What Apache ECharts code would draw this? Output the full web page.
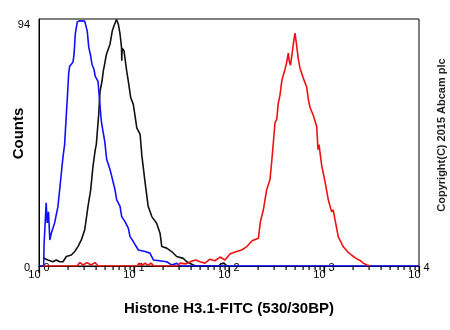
<!DOCTYPE html>
<html>
<head>
<meta charset="utf-8">
<script src="https://cdn.jsdelivr.net/npm/echarts@6/dist/echarts.min.js"></script>
<style>html,body{margin:0;padding:0;background:#fff}#c{width:450px;height:330px}</style>
</head>
<body>
<div id="c"></div>
<script>
// Fluorescence channel values (log scale) and event counts
const blueX = [1.00,1.12,1.13,1.19,1.22,1.26,1.30,1.35,1.46,1.58,1.65,1.72,1.79,1.86,1.94,1.99,2.05,2.10,2.19,2.28,2.34,2.41,2.53,2.68,3.03,3.22,3.34,3.50,3.61,3.79,3.91,4.18,4.35,4.53,4.72,4.92,5.16,5.59,5.83,6.31,6.58,7.13,7.42,8.04,8.71,9.08,9.83,11.1,13.1,14.7,16.0,22.1,24.9,28.1,30.5,10000];
const blueY = [0,0,8,24.1,16.4,20.6,9.9,12.6,16.4,22.5,29.0,35.5,41.6,46.2,57.7,64.2,73.0,76.0,76.8,77.6,80.6,88.3,92.9,93.3,93.2,89.4,83.3,79.9,76.8,74.9,72.2,70.3,62.7,55.0,51.2,47.4,40.5,36.7,34.1,29.0,25.2,22.7,18.8,16.9,14.4,11.2,9.3,6.1,5.5,4.9,2.3,1.6,0.4,1.0,0,0];

const blackX = [1.10,1.15,1.24,1.40,1.52,1.65,1.79,1.94,2.19,2.38,2.57,2.79,3.03,3.28,3.50,3.70,3.91,4.01,4.25,4.39,4.61,4.75,4.83,5.13,5.59,5.91,6.16,6.31,6.54,6.83,7.13,7.39,7.44,7.50,7.85,8.38,8.71,9.23,9.83,10.2,10.7,11.6,12.1,13.1,14.1,15.4,17.3,18.8,19.6,22.1,24.9,28.1,33.0,35.9,42.1,45.0,78,82,88.6,95,100];
const blackY = [3.1,2.9,2.3,1.6,2.3,1.6,1.6,3.6,4.2,5.5,7.4,9.9,13.8,22.7,29.0,37.9,44.3,46.2,57.7,66.5,70.4,74.2,75.5,80.6,84.4,89.5,91.4,92.1,93.8,92.1,88.3,83.2,78.1,82.9,81.9,74.2,70.4,64.1,61.5,57.7,52.6,50.1,42,31.6,22.7,18.8,16.3,12.5,7.4,6.8,5.5,3.6,2.9,1.6,0.4,0,0,0.8,1.1,0,0];

const redX = [1.10,2.51,2.70,2.90,3.20,3.52,3.89,4.18,10.8,11.3,12.1,13.1,14.0,15.1,16.2,28.4,30.5,35.3,40.8,45.0,49.5,55.9,63.1,71.2,80.4,90.8,102,120,136,154,175,204,214,230,249,270,281,293,305,318,330,344,359,370,389,405,421,431,444,461,475,495,513,537,559,605,658,684,712,772,838,865,886,946,1025,1110,1202,1250,1306,1415,1597,1789,1971,2172,2393,2593,2836,3049];
const redY = [0,0,1.3,0.4,1.3,0.4,1.3,0,0,1.1,0.2,1.1,0.2,1.1,0,0,1.1,0.8,1.9,2.3,1.6,1.1,2.6,2.0,3.4,2.3,4.6,5.5,6.1,7.4,9.6,10.6,16.8,21.4,29.0,32.9,39.4,47.0,54.6,55.8,61.9,65.0,70.3,72.2,74.9,77.6,81.0,77.9,76.4,80.6,84.4,88.6,84.4,78.7,75.3,71.5,68.0,63.4,60.4,57.3,53.1,44.3,46.2,38.2,32.1,25.2,20.6,21.4,17.6,11.1,7.3,5.3,4.0,2.9,2.1,1.1,0.4,0];

const xMajor = [1,10,100,1000,10000];
const xMinor = [2,3,4,5,6,7,8,9,20,30,40,50,60,70,80,90,200,300,400,500,600,700,800,900,2000,3000,4000,5000,6000,7000,8000,9000];

const xTitle = 'Histone H3.1-FITC (530/30BP)';
const yTitle = 'Counts';
const copyright = 'Copyright(C) 2015 Abcam plc';

const zip = (xs, ys) => xs.map((x, i) => [x, ys[i]]);
const FONT = '"Liberation Sans", Arial, sans-serif';

const chart = echarts.init(document.getElementById('c'), null, {renderer: 'canvas'});
chart.setOption({
  animation: false,
  grid: {left: 39, right: 31, top: 19, bottom: 64, containLabel: false, outerBoundsMode: 'none',
         show: true, borderColor: '#000', borderWidth: 1},
  xAxis: {
    type: 'log', logBase: 10, min: 1, max: 10000,
    name: xTitle, nameLocation: 'middle', nameGap: 35, nameMoveOverlap: false,
    nameTextStyle: {fontFamily: FONT, fontWeight: 'bold', fontSize: 15, color: '#000'},
    axisLine: {show: true, lineStyle: {color: '#000', width: 1}},
    axisTick: {show: true, length: 7, lineStyle: {color: '#000', width: 1.2}},
    axisLabel: {
      show: true, margin: -4,
      formatter: v => '{a|10}{b|' + Math.round(Math.log10(v)) + '}',
      rich: {
        a: {fontFamily: FONT, fontSize: 11, color: '#000', lineHeight: 18, verticalAlign: 'bottom'},
        b: {fontFamily: FONT, fontSize: 11, color: '#000', lineHeight: 18, verticalAlign: 'top', padding: [0, 0, 0, 3]}
      }
    },
    splitLine: {show: false}
  },
  yAxis: {
    type: 'value', min: 0, max: 94, interval: 94,
    name: yTitle, nameLocation: 'middle', nameGap: 13, nameRotate: 90, nameMoveOverlap: false,
    nameTextStyle: {fontFamily: FONT, fontWeight: 'bold', fontSize: 15, color: '#000', padding: [0, 0, 0, 18]},
    axisLine: {show: true, lineStyle: {color: '#000'}},
    axisTick: {show: false},
    axisLabel: {
      margin: 9,
      formatter: v => v === 94 ? '{t|94}' : '{z|' + v + '}',
      rich: {
        t: {fontFamily: FONT, fontSize: 11, color: '#000', padding: [12, 0, 0, 0]},
        z: {fontFamily: FONT, fontSize: 11, color: '#000', padding: [4, 0, 0, 0]}
      }
    },
    splitLine: {show: false}
  },
  series: [
    {type: 'line', name: 'black', data: zip(blackX, blackY), symbol: 'none', lineStyle: {color: '#111', width: 1.6}},
    {type: 'line', name: 'blue', data: zip(blueX, blueY), symbol: 'none', lineStyle: {color: '#1010ff', width: 1.6}},
    {type: 'line', name: 'red', data: zip(redX, redY), symbol: 'none', lineStyle: {color: '#f01010', width: 1.6}},
    {
      type: 'custom', name: 'ticks', zlevel: 1, z: 100, clip: false,
      data: xMajor.map(v => [v, 7]).concat(xMinor.map(v => [v, 4])),
      renderItem: (params, api) => {
        const p = api.coord([api.value(0), 0]);
        return {type: 'rect', shape: {x: Math.round(p[0]) - 0.5, y: Math.round(p[1]), width: 1.2, height: api.value(1)}, style: {fill: '#000'}};
      }
    }
  ],
  graphic: [{
    type: 'text', x: 442, y: 135, rotation: Math.PI / 2,
    style: {text: copyright, fontFamily: FONT, fontWeight: 'bold', fontSize: 11, fill: '#222', align: 'center', verticalAlign: 'middle'}
  }]
});
</script>
</body>
</html>
